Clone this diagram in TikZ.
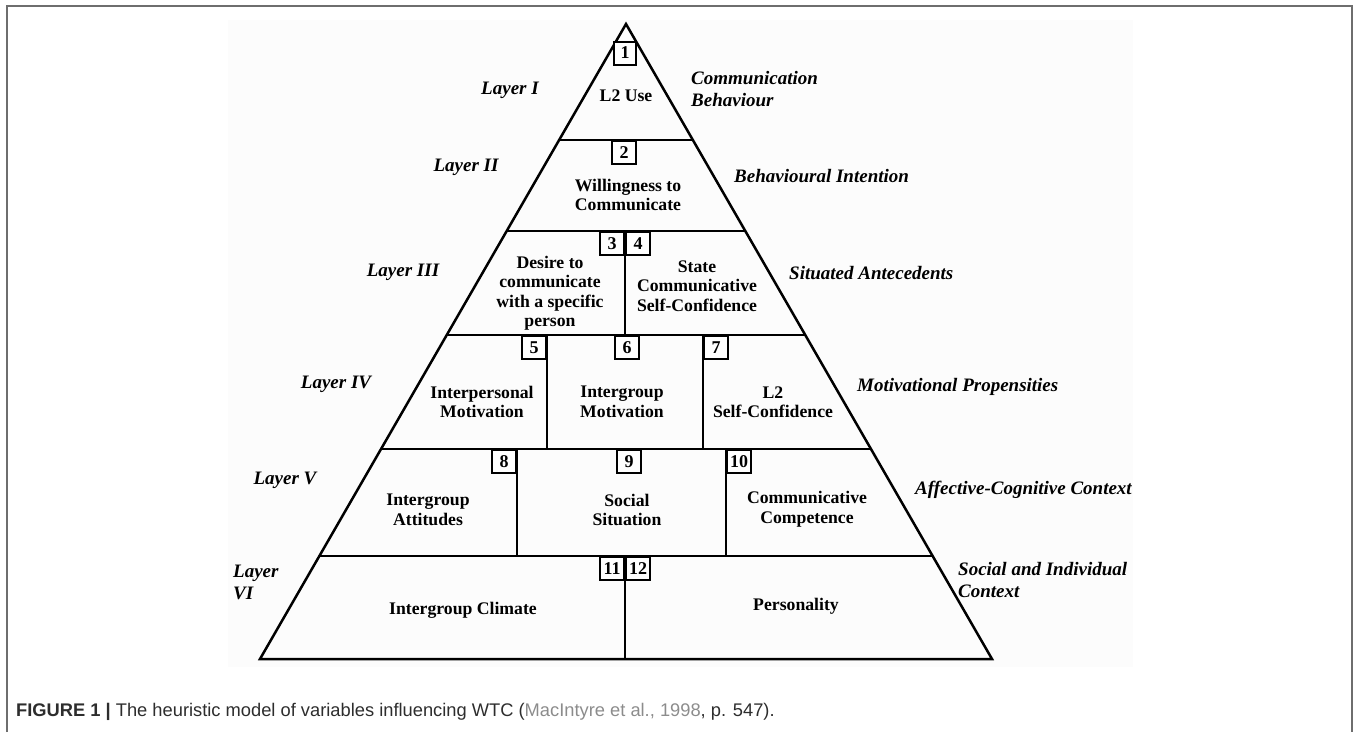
\documentclass[tikz,border=0pt]{standalone}
\usepackage{fontspec}
\setmainfont{Liberation Serif}
\newfontfamily\capfont{Liberation Sans}
\definecolor{framegray}{RGB}{110,110,110}
\definecolor{captext}{RGB}{45,45,45}
\definecolor{citegray}{RGB}{140,140,140}
\definecolor{paper}{RGB}{252,252,252}

\begin{document}
\begin{tikzpicture}[x=1pt,y=-1pt,
  cell/.style={align=center,font=\fontsize{17.7}{19.5}\selectfont\bfseries,inner sep=0pt},
  layer/.style={font=\fontsize{19}{22}\selectfont\bfseries\itshape,inner sep=0pt},
  numbox/.style={draw,line width=2pt,fill=white,minimum width=24pt,minimum height=23pt,inner sep=0pt,font=\fontsize{18}{18}\selectfont\bfseries}]
\useasboundingbox (0,0) rectangle (1358,732);
\fill [paper] (228,20) rectangle (1133,667);
\draw [framegray,line width=1.6pt] (7,732)--(7,6)--(1352,6)--(1352,732);
\draw [line width=2.5pt,line join=miter] (260,659)--(626,24)--(992,659)--cycle;
\draw [line width=2.5pt] (559,140)--(693,140);
\draw [line width=2.5pt] (507,231)--(745,231);
\draw [line width=2.5pt] (447,335)--(805,335);
\draw [line width=2.5pt] (381,449)--(871,449);
\draw [line width=2.5pt] (320,556)--(932,556);
\draw [line width=2.2pt] (625,231)--(625,335);
\draw [line width=2.2pt] (547,335)--(547,449);
\draw [line width=2.2pt] (703,335)--(703,449);
\draw [line width=2.2pt] (517,449)--(517,556);
\draw [line width=2.2pt] (726,449)--(726,556);
\draw [line width=2.2pt] (625,556)--(625,659);
\node [numbox,minimum width=22pt] (n1) at (625,53) {1};
\node [numbox,anchor=north] (n2) at (624,140) {2};
\node [numbox,anchor=north east] (n3) at (625,231) {3};
\node [numbox,anchor=north west] (n4) at (625,231) {4};
\node [numbox,anchor=north east] (n5) at (547,335) {5};
\node [numbox,anchor=north] (n6) at (627,335) {6};
\node [numbox,anchor=north west] (n7) at (703,335) {7};
\node [numbox,anchor=north east] (n8) at (517,449) {8};
\node [numbox,anchor=north] (n9) at (629,449) {9};
\node [numbox,anchor=north west] (n10) at (726,449) {10};
\node [numbox,anchor=north east] (n11) at (625,556) {11};
\node [numbox,anchor=north west] (n12) at (625,556) {12};
\node [cell] (use) at (626,96) {L2 Use};
\node [cell] (wtc) at (628,195) {Willingness to\\Communicate};
\node [cell] (desire) at (550,293) {Desire to\\communicate\\with a specific\\person};
\node [cell] (state) at (697,286) {State\\Communicative\\Self-Confidence};
\node [cell] (interp) at (482,402) {Interpersonal\\Motivation};
\node [cell] (intermot) at (622,402) {Intergroup\\Motivation};
\node [cell] (selfconf) at (773,402) {L2\\Self-Confidence};
\node [cell] (attitudes) at (428,510) {Intergroup\\Attitudes};
\node [cell] (social) at (627,510) {Social\\Situation};
\node [cell] (competence) at (807,509) {Communicative\\Competence};
\node [cell] (climate) at (463,610) {Intergroup Climate};
\node [cell] (personality) at (796,606) {Personality};
\node [layer] (l1) at (510,90) {Layer I};
\node [layer] (l2) at (466,167) {Layer II};
\node [layer] (l3) at (403,272) {Layer III};
\node [layer] (l4) at (336,384) {Layer IV};
\node [layer] (l5) at (285,480) {Layer V};
\node [layer,align=left,anchor=west] (l6) at (233,582) {Layer\\VI};
\node [layer,align=left,anchor=west] (r1) at (691,89) {Communication\\Behaviour};
\node [layer,anchor=west] (r2) at (734,176) {Behavioural Intention};
\node [layer,anchor=west] (r3) at (789,273) {Situated Antecedents};
\node [layer,anchor=west] (r4) at (857,387) {Motivational Propensities};
\node [layer,anchor=west] (r5) at (915,490) {Affective-Cognitive Context};
\node [layer,align=left,anchor=west] (r6) at (958,580) {Social and Individual\\Context};
\node [anchor=west,inner sep=0pt,text=captext,font=\capfont\fontsize{18.3}{18.3}\selectfont] (caption) at (16,712) {\textbf{FIGURE 1 |} The heuristic model of variables influencing WTC ({\color{citegray}MacIntyre et al., 1998}, p. 547).};
\end{tikzpicture}
\end{document}
